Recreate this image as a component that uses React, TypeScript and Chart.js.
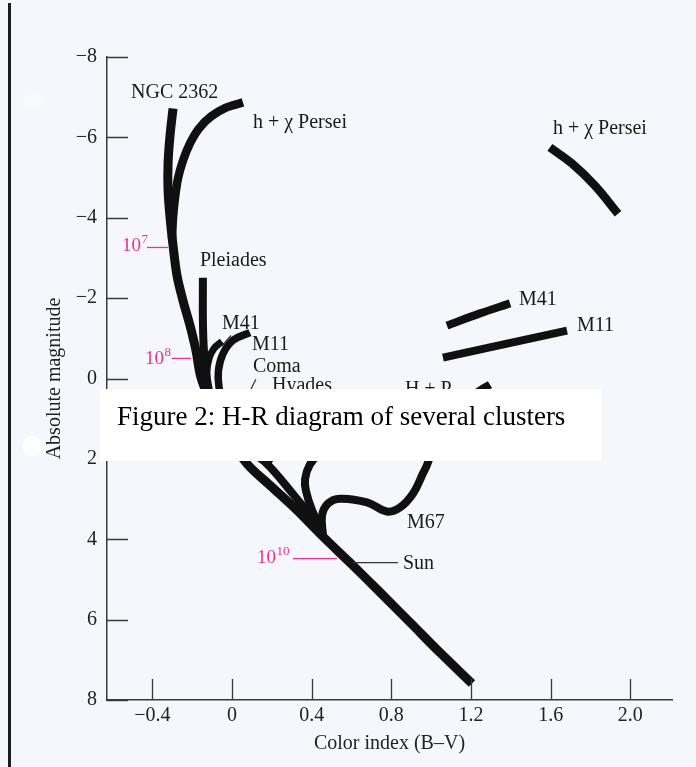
import React, { useEffect, useRef } from 'react';
import { Chart, registerables } from 'chart.js';

Chart.register(...registerables);

// ---------- axis ticks ----------
const X_TICKS = [-0.4, 0, 0.4, 0.8, 1.2, 1.6, 2.0];
const X_TICK_LABELS = ['\u22120.4', '0', '0.4', '0.8', '1.2', '1.6', '2.0'];
const Y_TICKS = [-8, -6, -4, -2, 0, 2, 4, 6, 8];
const Y_TICK_LABELS = ['\u22128', '\u22126', '\u22124', '\u22122', '0', '2', '4', '6', '8'];

// ---------- cluster sequences (B-V colour index, absolute magnitude) ----------
const NGC2362_BV = [-0.296, -0.311, -0.321, -0.321, -0.311, -0.296, -0.276, -0.246, -0.211, -0.181, -0.156, -0.110, -0.030, 0.070, 0.191, 0.316, 0.462, 0.592, 0.743, 0.894, 1.044, 1.205];
const NGC2362_M = [-6.72, -6.05, -5.35, -4.68, -4.01, -3.31, -2.56, -1.94, -1.32, -0.70, -0.03, 0.55, 1.29, 2.09, 2.66, 3.23, 3.96, 4.58, 5.32, 6.07, 6.82, 7.59];

const HCHI_BV = [0.055, -0.030, -0.105, -0.166, -0.211, -0.246, -0.271, -0.286, -0.296, -0.301];
const HCHI_M = [-6.87, -6.74, -6.52, -6.22, -5.85, -5.42, -4.98, -4.50, -4.01, -3.48];

const HCHI_RED_BV = [1.596, 1.707, 1.822, 1.938];
const HCHI_RED_M = [-5.75, -5.35, -4.80, -4.10];

const PLEIADES_BV = [-0.146, -0.146, -0.141, -0.126, -0.075, 0.02, 0.17, 0.31, 0.45];
const PLEIADES_M = [-2.51, -1.44, -0.70, 0.12, 0.90, 1.55, 2.10, 2.90, 3.75];

const M41_BV = [-0.050, -0.090, -0.115, -0.126, -0.11];
const M41_M = [-0.92, -0.75, -0.50, -0.15, 0.40];

const M41_RED_BV = [1.079, 1.245, 1.396];
const M41_RED_M = [-1.32, -1.62, -1.87];

const M11_BV = [0.090, 0.005, -0.045, -0.068, -0.065, -0.03, 0.06, 0.20];
const M11_M = [-1.14, -0.95, -0.62, -0.20, 0.22, 1.0, 1.6, 2.1];

const M11_RED_BV = [1.059, 1.381, 1.682];
const M11_RED_M = [-0.52, -0.87, -1.19];

const HYADES_BV = [0.50, 0.44, 0.39, 0.367, 0.371, 0.402, 0.452];
const HYADES_M = [1.6, 1.85, 2.15, 2.5, 2.79, 3.28, 3.81];

const HP_RED_BV = [1.17, 1.23, 1.295];
const HP_RED_M = [0.62, 0.35, 0.15];

const M67_BV = [0.457, 0.452, 0.482, 0.542, 0.678, 0.778, 0.843, 0.909, 0.959, 0.984, 1.004];
const M67_M = [3.91, 3.41, 3.11, 2.99, 3.08, 3.31, 3.21, 2.86, 2.36, 2.09, 1.74];

// ---------- text labels (anchored in data coordinates) ----------
const LABEL_TEXT = ['NGC 2362', 'h + \u03C7 Persei', 'h + \u03C7 Persei', 'Pleiades', 'M41', 'M11', 'Coma', 'Hyades', 'H + P', 'M41', 'M11', 'M67', 'Sun'];
const LABEL_BV = [-0.507, 0.105, 1.611, -0.161, -0.050, 0.100, 0.105, 0.201, 0.868, 1.441, 1.732, 0.878, 0.858];
const LABEL_M = [-6.97, -6.24, -6.09, -2.81, -1.24, -0.70, -0.17, 0.32, 0.42, -1.82, -1.19, 3.71, 4.73];

// leader lines
const LEADER_BV1 = [-0.005, 0.120, 0.607];
const LEADER_M1 = [-1.07, 0.02, 4.58];
const LEADER_BV2 = [-0.045, 0.090, 0.833];
const LEADER_M2 = [-0.85, 0.32, 4.58];

// age markers (pink)
const AGE_BASE = ['10', '10', '10'];
const AGE_EXP = ['7', '8', '10'];
const AGE_TEXT_BV = [-0.552, -0.437, 0.125];
const AGE_TEXT_M = [-3.18, -0.37, 4.60];
const AGE_LINE_BV1 = [-0.427, -0.301, 0.306];
const AGE_LINE_BV2 = [-0.321, -0.206, 0.527];
const AGE_LINE_M = [-3.26, -0.50, 4.48];

const CAPTION = 'Figure 2: H-R diagram of several clusters';

const INK = '#101010';
const PINK = '#e8348c';
const AXIS = '#3a3a3a';
const SERIF = '"Liberation Serif", "Times New Roman", serif';

const pts = (bv: number[], m: number[]) => bv.map((v, i) => ({ x: v, y: m[i] }));

const decorPlugin = {
  id: 'decor',
  beforeDraw(chart: any) {
    const { ctx, width, height } = chart;
    ctx.save();
    ctx.fillStyle = '#f6f7fc';
    ctx.fillRect(0, 0, width, height);
    ctx.fillStyle = '#1c1c1c';
    ctx.fillRect(8, 3, 3, height - 3);
    ctx.fillStyle = '#ffffff';
    ctx.beginPath();
    ctx.arc(32, 446, 10, 0, Math.PI * 2);
    ctx.fill();
    ctx.globalAlpha = 0.25;
    ctx.beginPath();
    ctx.arc(33, 100, 10, 0, Math.PI * 2);
    ctx.fill();
    ctx.restore();
  },
  afterDatasetsDraw(chart: any) {
    const { ctx, chartArea } = chart;
    const xs = chart.scales.x;
    const ys = chart.scales.y;
    const X = (v: number) => xs.getPixelForValue(v);
    const Y = (v: number) => ys.getPixelForValue(v);
    ctx.save();
    // inward tick marks
    ctx.strokeStyle = AXIS;
    ctx.lineWidth = 1.3;
    ctx.beginPath();
    Y_TICKS.forEach((v) => {
      const py = Math.round(Y(v)) + 0.5;
      ctx.moveTo(chartArea.left, py);
      ctx.lineTo(chartArea.left + 21, py);
    });
    X_TICKS.forEach((v) => {
      const px = Math.round(X(v)) + 0.5;
      ctx.moveTo(px, chartArea.bottom);
      ctx.lineTo(px, chartArea.bottom - 21);
    });
    ctx.stroke();

    // cluster labels
    ctx.fillStyle = '#1a1a1a';
    ctx.font = `20px ${SERIF}`;
    ctx.textAlign = 'left';
    ctx.textBaseline = 'alphabetic';
    LABEL_TEXT.forEach((t, i) => ctx.fillText(t, X(LABEL_BV[i]), Y(LABEL_M[i])));

    // leader lines
    ctx.strokeStyle = '#333';
    ctx.lineWidth = 1.2;
    ctx.beginPath();
    LEADER_BV1.forEach((v, i) => {
      ctx.moveTo(X(v), Y(LEADER_M1[i]));
      ctx.lineTo(X(LEADER_BV2[i]), Y(LEADER_M2[i]));
    });
    ctx.stroke();

    // age markers
    AGE_BASE.forEach((b, i) => {
      const px = X(AGE_TEXT_BV[i]);
      const py = Y(AGE_TEXT_M[i]);
      ctx.fillStyle = PINK;
      ctx.font = `19px ${SERIF}`;
      ctx.fillText(b, px, py);
      const w = ctx.measureText(b).width;
      ctx.font = `13px ${SERIF}`;
      ctx.fillText(AGE_EXP[i], px + w + 0.5, py - 8);
      ctx.strokeStyle = PINK;
      ctx.lineWidth = 1.3;
      ctx.beginPath();
      ctx.moveTo(X(AGE_LINE_BV1[i]), Y(AGE_LINE_M[i]));
      ctx.lineTo(X(AGE_LINE_BV2[i]), Y(AGE_LINE_M[i]));
      ctx.stroke();
    });
    ctx.restore();
  },
  afterDraw(chart: any) {
    const { ctx } = chart;
    ctx.save();
    ctx.fillStyle = '#ffffff';
    ctx.fillRect(100, 389, 502, 72);
    ctx.fillStyle = '#000';
    ctx.font = `27px ${SERIF}`;
    ctx.textAlign = 'left';
    ctx.textBaseline = 'alphabetic';
    ctx.fillText(CAPTION, 117, 425);
    ctx.restore();
  },
};

export default function App() {
  const ref = useRef<HTMLCanvasElement | null>(null);

  useEffect(() => {
    const canvas = ref.current;
    if (!canvas) return;
    const track = (bv: number[], m: number[], width: number, tension: number) => ({
      data: pts(bv, m),
      showLine: true,
      borderColor: INK,
      backgroundColor: INK,
      borderWidth: width,
      pointRadius: 0,
      tension,
      borderCapStyle: 'butt',
      borderJoinStyle: 'round',
      fill: false,
    });
    const chart = new Chart(canvas, {
      type: 'scatter',
      data: {
        datasets: [
          { label: 'NGC 2362', ...track(NGC2362_BV, NGC2362_M, 9, 0.35) },
          { label: 'h + \u03C7 Persei', ...track(HCHI_BV, HCHI_M, 8.5, 0.35) },
          { label: 'h + \u03C7 Persei (red)', ...track(HCHI_RED_BV, HCHI_RED_M, 8.5, 0.4) },
          { label: 'Pleiades', ...track(PLEIADES_BV, PLEIADES_M, 8, 0.35) },
          { label: 'M41', ...track(M41_BV, M41_M, 7, 0.4) },
          { label: 'M41 (red)', ...track(M41_RED_BV, M41_RED_M, 8, 0.3) },
          { label: 'M11', ...track(M11_BV, M11_M, 7.5, 0.4) },
          { label: 'M11 (red)', ...track(M11_RED_BV, M11_RED_M, 8, 0.3) },
          { label: 'Hyades', ...track(HYADES_BV, HYADES_M, 8, 0.4) },
          { label: 'H + P (red)', ...track(HP_RED_BV, HP_RED_M, 8, 0.3) },
          { label: 'M67', ...track(M67_BV, M67_M, 8, 0.4) },
        ] as any,
      },
      options: {
        animation: false,
        responsive: false,
        maintainAspectRatio: false,
        layout: { padding: { left: 0, top: 57, right: 24, bottom: 0 } },
        plugins: { legend: { display: false }, tooltip: { enabled: false } },
        scales: {
          x: {
            type: 'linear',
            min: -0.6275,
            max: 2.209,
            afterBuildTicks: (s: any) => {
              s.ticks = X_TICKS.map((v) => ({ value: v }));
            },
            afterFit: (s: any) => {
              s.height = 67;
            },
            grid: { drawOnChartArea: false, drawTicks: false },
            border: { display: true, color: AXIS, width: 1.5 },
            ticks: {
              autoSkip: false,
              maxRotation: 0,
              padding: 4,
              color: '#222',
              font: { family: SERIF, size: 20 },
              callback: (_v: any, i: number) => X_TICK_LABELS[i],
            },
            title: {
              display: true,
              text: 'Color index (B\u2013V)',
              color: '#222',
              font: { family: SERIF, size: 20 },
              padding: { top: 0, bottom: 11 },
            },
          },
          y: {
            type: 'linear',
            min: -8,
            max: 8,
            reverse: true,
            afterBuildTicks: (s: any) => {
              s.ticks = Y_TICKS.map((v) => ({ value: v }));
            },
            afterFit: (s: any) => {
              s.width = 107;
            },
            grid: { drawOnChartArea: false, drawTicks: false },
            border: { display: true, color: AXIS, width: 1.5 },
            ticks: {
              padding: 10,
              color: '#222',
              font: { family: SERIF, size: 20 },
              callback: (_v: any, i: number) => Y_TICK_LABELS[i],
            },
            title: {
              display: true,
              text: 'Absolute magnitude',
              color: '#222',
              font: { family: SERIF, size: 20 },
              padding: { top: 43, bottom: 0 },
            },
          },
        },
      } as any,
      plugins: [decorPlugin],
    });
    return () => chart.destroy();
  }, []);

  return (
    <div style={{ position: 'absolute', left: 0, top: 0, width: 696, height: 767 }}>
      <canvas ref={ref} width={696} height={767} style={{ display: 'block', width: 696, height: 767 }} />
    </div>
  );
}
